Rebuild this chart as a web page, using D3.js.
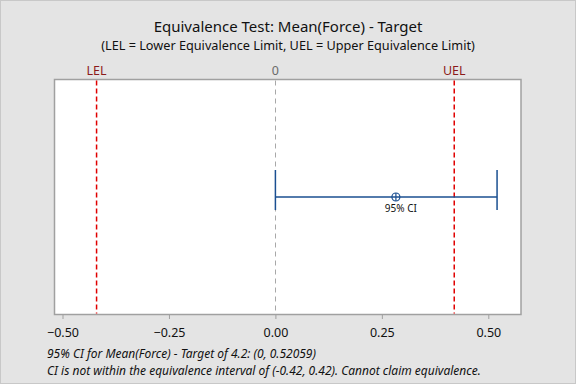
<!DOCTYPE html>
<html><head><meta charset="utf-8">
<script src="https://cdn.jsdelivr.net/npm/d3@7"></script>
<style>html,body{margin:0;padding:0;background:#e4e4e4;}svg{display:block;}</style>
</head><body>
<script>
const titleText = "Equivalence Test: Mean(Force) - Target";
const subtitleText = "(LEL = Lower Equivalence Limit, UEL = Upper Equivalence Limit)";
const limitNames = ["LEL", "UEL"];
const limitValues = [-0.42, 0.42];
const ciLower = 0;
const ciUpper = 0.52059;
const estimate = 0.283;
const ciLabel = "95% CI";
const tickValues = [-0.5, -0.25, 0, 0.25, 0.5];
const xDomain = [-0.5188, 0.5768];
const notes = ["95% CI for Mean(Force) - Target of 4.2: (0, 0.52059)",
               "CI is not within the equivalence interval of (-0.42, 0.42). Cannot claim equivalence."];

const W = 576, H = 384;
const plot = {left: 54.5, right: 521, top: 79.5, bottom: 314.5};
const font = "'Segoe UI', 'Noto Sans', 'Open Sans', sans-serif";

const svg = d3.select("body").append("svg").attr("width", W).attr("height", H);
svg.append("rect").attr("x",0.5).attr("y",0.5).attr("width",W-1).attr("height",H-1)
  .attr("fill","#e4e4e4").attr("stroke","#c8c8c8");

const x = d3.scaleLinear().domain(xDomain).range([plot.left, plot.right]);
const yMid = (plot.top + plot.bottom) / 2;

svg.append("text").attr("x", 288).attr("y", 32).attr("text-anchor","middle")
  .attr("font-family", font).attr("font-size", 15).attr("fill","#111").text(titleText);
svg.append("text").attr("x", 288).attr("y", 50).attr("text-anchor","middle")
  .attr("font-family", font).attr("font-size", 12.7).attr("fill","#111").text(subtitleText);

svg.append("rect").attr("x", plot.left).attr("y", plot.top)
  .attr("width", plot.right - plot.left).attr("height", plot.bottom - plot.top)
  .attr("fill","#fff").attr("stroke","#a0a0a0").attr("stroke-width",1.5);

// zero reference
svg.append("line").attr("x1", Math.round(x(0))+0.5).attr("x2", Math.round(x(0))+0.5)
  .attr("y1", plot.top+1).attr("y2", plot.bottom-1)
  .attr("stroke","#a8a8a8").attr("stroke-width",1).attr("stroke-dasharray","5,4");
svg.append("text").attr("x", x(0)).attr("y", 75).attr("text-anchor","middle")
  .attr("font-family", font).attr("font-size", 12.5).attr("fill","#6a6a6a").text("0");

// equivalence limits
limitValues.forEach((v,i) => {
  svg.append("line").attr("x1", x(v)).attr("x2", x(v))
    .attr("y1", plot.top+1).attr("y2", plot.bottom-1)
    .attr("stroke","#e00000").attr("stroke-width",1.5).attr("stroke-dasharray","5,3");
  svg.append("text").attr("x", x(v)).attr("y", 75).attr("text-anchor","middle")
    .attr("font-family", font).attr("font-size", 12.5).attr("fill","#8b1a1a").text(limitNames[i]);
});

// CI
const ciColor = "#1a4f91";
const g = svg.append("g");
g.append("line").attr("x1", x(ciLower)).attr("x2", x(ciUpper)).attr("y1", yMid).attr("y2", yMid)
  .attr("stroke", ciColor).attr("stroke-width",1.3);
[ciLower, ciUpper].forEach(v => {
  g.append("line").attr("x1", x(v)).attr("x2", x(v)).attr("y1", yMid-27).attr("y2", yMid+13)
    .attr("stroke", ciColor).attr("stroke-width",1.5);
});
g.append("circle").attr("cx", x(estimate)).attr("cy", yMid).attr("r", 4)
  .attr("fill","none").attr("stroke", ciColor).attr("stroke-width",1.2);
g.append("line").attr("x1", x(estimate)).attr("x2", x(estimate)).attr("y1", yMid-4).attr("y2", yMid+4)
  .attr("stroke", ciColor).attr("stroke-width",1.2);
g.append("text").attr("x", x(estimate)+5).attr("y", yMid+15).attr("text-anchor","middle")
  .attr("font-family", font).attr("font-size", 10).attr("fill","#111").text(ciLabel);

// axis
const axis = d3.axisBottom(x).tickValues(tickValues).tickFormat(d3.format(".2f")).tickSize(4).tickSizeOuter(0);
const ax = svg.append("g").attr("transform", `translate(0,${plot.bottom+0.5})`).call(axis);
ax.select(".domain").remove();
ax.selectAll(".tick line").attr("stroke","#a0a0a0");
ax.selectAll(".tick text").attr("font-family", font).attr("font-size", 12.5).attr("fill","#111").attr("dy","1.2em");

notes.forEach((t,i) => {
  svg.append("text").attr("x", 47).attr("y", 358 + i*16.5)
    .attr("font-family", font).attr("font-size", 12).attr("font-style","italic").attr("fill","#111").text(t);
});
</script>
</body></html>
